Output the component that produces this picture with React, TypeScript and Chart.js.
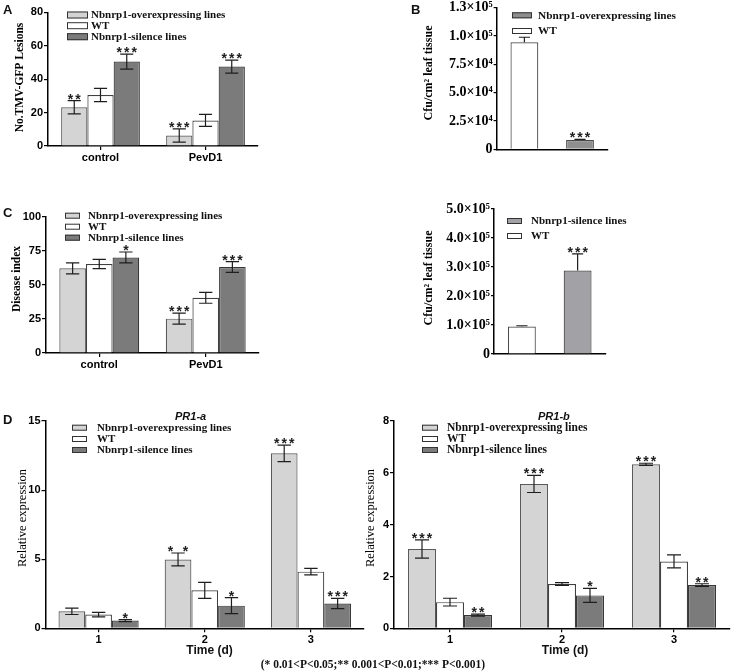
import React, { useEffect, useRef } from 'react';
import { Chart, registerables } from 'chart.js';

Chart.register(...registerables);

// ---------------- data ----------------
const legendOver = 'Nbnrp1-overexpressing lines';
const legendWT = 'WT';
const legendSil = 'Nbnrp1-silence lines';

// Panel A: TMV-GFP lesions
const treatments = ['control', 'PevD1'];
const lesionTicks = [0, 20, 40, 60, 80];
const lesionOver = [23.2, 6.3];
const lesionOverSD = [4.0, 4.0];
const lesionWT = [30.5, 15.3];
const lesionWTSD = [4.0, 3.6];
const lesionSil = [50.5, 47.5];
const lesionSilSD = [4.5, 3.9];
const lesionOverSig = ['**', '***'];
const lesionWTSig = ['', ''];
const lesionSilSig = ['***', '***'];

// Panel B (top): cfu, overexpressing vs WT
const cfuGroupsOver = ['WT', 'Nbnrp1-overexpressing lines'];
const cfuOverValues = [94500, 8200];
const cfuOverSD = [4400, 600];
const cfuOverSig = ['', '***'];
const cfuOverTicks = [0, 25000, 50000, 75000, 100000, 125000];
const cfuOverTickLabels = ['0', '2.5×10⁴', '5.0×10⁴', '7.5×10⁴', '1.0×10⁵', '1.3×10⁵'];

// Panel C: disease index
const diseaseTicks = [0, 25, 50, 75, 100];
const diseaseOver = [62.1, 25.2];
const diseaseOverSD = [4.0, 4.0];
const diseaseWT = [65.3, 40.5];
const diseaseWTSD = [3.4, 4.0];
const diseaseSil = [70.1, 63.1];
const diseaseSilSD = [4.0, 3.9];
const diseaseOverSig = ['', '***'];
const diseaseWTSig = ['', ''];
const diseaseSilSig = ['*', '***'];

// Panel B (bottom): cfu, silence vs WT
const cfuGroupsSil = ['WT', 'Nbnrp1-silence lines'];
const cfuSilValues = [95000, 288000];
const cfuSilSD = [2500, 57000];
const cfuSilSig = ['', '***'];
const cfuSilTicks = [0, 100000, 200000, 300000, 400000, 500000];
const cfuSilTickLabels = ['0', '1.0×10⁵', '2.0×10⁵', '3.0×10⁵', '4.0×10⁵', '5.0×10⁵'];

// Panel D: relative expression
const days = ['1', '2', '3'];
const pr1aTicks = [0, 5, 10, 15];
const pr1aOver = [1.23, 4.98, 12.66];
const pr1aOverSD = [0.23, 0.47, 0.6];
const pr1aWT = [0.99, 2.75, 4.1];
const pr1aWTSD = [0.16, 0.58, 0.23];
const pr1aSil = [0.56, 1.64, 1.79];
const pr1aSilSD = [0.07, 0.58, 0.37];
const pr1aOverSig = ['', '* *', '***'];
const pr1aWTSig = ['', '', ''];
const pr1aSilSig = ['*', '*', '***'];

const pr1bTicks = [0, 2, 4, 6, 8];
const pr1bOver = [3.06, 5.57, 6.33];
const pr1bOverSD = [0.35, 0.33, 0.04];
const pr1bWT = [1.01, 1.71, 2.58];
const pr1bWTSD = [0.15, 0.05, 0.25];
const pr1bSil = [0.51, 1.27, 1.67];
const pr1bSilSD = [0.04, 0.27, 0.05];
const pr1bOverSig = ['***', '***', '***'];
const pr1bWTSig = ['', '', ''];
const pr1bSilSig = ['**', '*', '**'];

// ---------------- styles ----------------
const SANS = '"Liberation Sans", Arial, sans-serif';
const SERIF = '"Liberation Serif", "Times New Roman", serif';
const cLight = '#d4d4d4';
const cWhite = '#ffffff';
const cDark = '#7b7b7b';
const cB1 = '#8f8f8f';
const cB2 = '#a2a2a6';
const bLight = '#5a5a5a';
const bWhite = '#404040';
const bDark = '#383838';

type Series = { data: number[]; sd: number[]; sig: string[]; fill: string | string[]; border: string };
type Legend = { boxX: number; boxW: number; boxH: number; textX: number; ys: number[]; font: string; items: [string, string][] };
type PanelSpec = {
  rect: number[];
  area: number[];
  labels: string[];
  series: Series[];
  yMax: number;
  yTicks: number[];
  yTickLabels?: string[];
  yTickFont: any;
  yTickLen: number;
  xTickFont: any | null;
  catPct: number;
  capFrac: number;
  upOnly?: boolean;
  yTitle: string;
  yTitleFont: string;
  yTitlePos: number[];
  xTitle?: string;
  xTitlePos?: number[];
  legend: Legend;
};

const tickSans = { family: SANS, size: 11, weight: 'bold' };
const tickSerif = { family: SERIF, size: 14, weight: 'bold' };
const legendFont = `bold 11px ${SERIF}`;

const panels: PanelSpec[] = [
  {
    rect: [0, 0, 262, 170],
    area: [48, 12.3, 258, 146],
    labels: treatments,
    series: [
      { data: lesionOver, sd: lesionOverSD, sig: lesionOverSig, fill: cLight, border: bLight },
      { data: lesionWT, sd: lesionWTSD, sig: lesionWTSig, fill: cWhite, border: bWhite },
      { data: lesionSil, sd: lesionSilSD, sig: lesionSilSig, fill: cDark, border: bDark },
    ],
    yMax: 80,
    yTicks: lesionTicks,
    yTickFont: tickSans,
    yTickLen: 4,
    xTickFont: tickSans,
    catPct: 0.75,
    capFrac: 0.5,
    yTitle: 'No.TMV-GFP Lesions',
    yTitleFont: `bold 11.5px ${SERIF}`,
    yTitlePos: [20, 77.5],
    legend: {
      boxX: 67, boxW: 21, boxH: 7, textX: 91, ys: [15, 25.7, 36.7], font: legendFont,
      items: [[legendOver, cLight], [legendWT, cWhite], [legendSil, cDark]],
    },
  },
  {
    rect: [370, 0, 363, 165],
    area: [496.6, 7.7, 607.8, 149.3],
    labels: cfuGroupsOver,
    series: [{ data: cfuOverValues, sd: cfuOverSD, sig: cfuOverSig, fill: [cWhite, cB1], border: '#4a4a4a' }],
    yMax: 125000,
    yTicks: cfuOverTicks,
    yTickLabels: cfuOverTickLabels,
    yTickFont: tickSerif,
    yTickLen: 3,
    xTickFont: null,
    catPct: 0.5,
    capFrac: 0.4,
    upOnly: true,
    yTitle: 'Cfu/cm² leaf tissue',
    yTitleFont: `bold 12px ${SERIF}`,
    yTitlePos: [429, 73],
    legend: {
      boxX: 512, boxW: 20, boxH: 6, textX: 538, ys: [15.3, 31], font: `bold 11.3px ${SERIF}`,
      items: [[legendOver, cB1], [legendWT, cWhite]],
    },
  },
  {
    rect: [0, 190, 262, 190],
    area: [46, 216.7, 259, 353],
    labels: treatments,
    series: [
      { data: diseaseOver, sd: diseaseOverSD, sig: diseaseOverSig, fill: cLight, border: bLight },
      { data: diseaseWT, sd: diseaseWTSD, sig: diseaseWTSig, fill: cWhite, border: bWhite },
      { data: diseaseSil, sd: diseaseSilSD, sig: diseaseSilSig, fill: cDark, border: bDark },
    ],
    yMax: 100,
    yTicks: diseaseTicks,
    yTickFont: tickSans,
    yTickLen: 4,
    xTickFont: tickSans,
    catPct: 0.75,
    capFrac: 0.5,
    yTitle: 'Disease index',
    yTitleFont: `bold 11.5px ${SERIF}`,
    yTitlePos: [17, 279],
    legend: {
      boxX: 65, boxW: 15, boxH: 6, textX: 88, ys: [215.7, 226.7, 237.7], font: legendFont,
      items: [[legendOver, cLight], [legendWT, cWhite], [legendSil, cDark]],
    },
  },
  {
    rect: [370, 195, 363, 170],
    area: [494, 209, 605.5, 354],
    labels: cfuGroupsSil,
    series: [{ data: cfuSilValues, sd: cfuSilSD, sig: cfuSilSig, fill: [cWhite, cB2], border: '#4a4a4a' }],
    yMax: 500000,
    yTicks: cfuSilTicks,
    yTickLabels: cfuSilTickLabels,
    yTickFont: tickSerif,
    yTickLen: 3,
    xTickFont: null,
    catPct: 0.5,
    capFrac: 0.4,
    upOnly: true,
    yTitle: 'Cfu/cm² leaf tissue',
    yTitleFont: `bold 12px ${SERIF}`,
    yTitlePos: [429, 278],
    legend: {
      boxX: 507, boxW: 15, boxH: 6, textX: 531, ys: [221, 236], font: legendFont,
      items: [[legendSil, cB2], [legendWT, cWhite]],
    },
  },
  {
    rect: [0, 405, 372, 267],
    area: [45.5, 421, 364, 628.3],
    labels: days,
    series: [
      { data: pr1aOver, sd: pr1aOverSD, sig: pr1aOverSig, fill: cLight, border: bLight },
      { data: pr1aWT, sd: pr1aWTSD, sig: pr1aWTSig, fill: cWhite, border: bWhite },
      { data: pr1aSil, sd: pr1aSilSD, sig: pr1aSilSig, fill: cDark, border: bDark },
    ],
    yMax: 15,
    yTicks: pr1aTicks,
    yTickFont: tickSans,
    yTickLen: 4,
    xTickFont: tickSans,
    catPct: 0.755,
    capFrac: 0.5,
    yTitle: 'Relative expression',
    yTitleFont: `12.5px ${SERIF}`,
    yTitlePos: [23, 518],
    xTitle: 'Time (d)',
    xTitlePos: [209.5, 651],
    legend: {
      boxX: 72, boxW: 15, boxH: 6, textX: 97, ys: [427.7, 439, 450], font: legendFont,
      items: [[legendOver, cLight], [legendWT, cWhite], [legendSil, cDark]],
    },
  },
  {
    rect: [360, 405, 373, 267],
    area: [394, 421, 730, 628.3],
    labels: days,
    series: [
      { data: pr1bOver, sd: pr1bOverSD, sig: pr1bOverSig, fill: cLight, border: bLight },
      { data: pr1bWT, sd: pr1bWTSD, sig: pr1bWTSig, fill: cWhite, border: bWhite },
      { data: pr1bSil, sd: pr1bSilSD, sig: pr1bSilSig, fill: cDark, border: bDark },
    ],
    yMax: 8,
    yTicks: pr1bTicks,
    yTickFont: tickSans,
    yTickLen: 4,
    xTickFont: tickSans,
    catPct: 0.75,
    capFrac: 0.5,
    yTitle: 'Relative expression',
    yTitleFont: `12.5px ${SERIF}`,
    yTitlePos: [371, 518],
    xTitle: 'Time (d)',
    xTitlePos: [565, 651],
    legend: {
      boxX: 422, boxW: 16, boxH: 6, textX: 447, ys: [427.7, 439, 450], font: `bold 11.5px ${SERIF}`,
      items: [[legendOver, cLight], [legendWT, cWhite], [legendSil, cDark]],
    },
  },
];

function makeDecor(spec: PanelSpec) {
  const ox = spec.rect[0];
  const oy = spec.rect[1];
  return {
    id: 'decor',
    afterDatasetsDraw(chart: any) {
      const ctx = chart.ctx;
      const ys = chart.scales.y;
      spec.series.forEach((s, di) => {
        const meta = chart.getDatasetMeta(di);
        meta.data.forEach((el: any, j: number) => {
          const v = s.data[j];
          const sd = s.sd[j];
          const x = el.x;
          const w = el.width;
          const yHi = ys.getPixelForValue(v + sd);
          const yLo = spec.upOnly ? ys.getPixelForValue(v) : ys.getPixelForValue(v - sd);
          const cap = (w * spec.capFrac) / 2;
          ctx.save();
          ctx.strokeStyle = '#1e1e1e';
          ctx.lineWidth = 1.2;
          ctx.beginPath();
          ctx.moveTo(x, yLo);
          ctx.lineTo(x, yHi);
          ctx.moveTo(x - cap, yHi);
          ctx.lineTo(x + cap, yHi);
          if (!spec.upOnly) {
            ctx.moveTo(x - cap, yLo);
            ctx.lineTo(x + cap, yLo);
          }
          ctx.stroke();
          const sig = s.sig[j];
          if (sig) {
            ctx.fillStyle = '#1e1e1e';
            ctx.font = `bold 14px ${SANS}`;
            ctx.textAlign = 'center';
            ctx.textBaseline = 'alphabetic';
            const n = sig.length;
            const step = 7.5;
            for (let k = 0; k < n; k++) {
              const ch = sig[k];
              if (ch === ' ') continue;
              ctx.fillText(ch, x + (k - (n - 1) / 2) * step, yHi + 3);
            }
          }
          ctx.restore();
        });
      });
    },
    afterDraw(chart: any) {
      const ctx = chart.ctx;
      const lg = spec.legend;
      ctx.save();
      lg.items.forEach(([text, fill], i) => {
        const cy = lg.ys[i] - oy;
        const bx = lg.boxX - ox;
        ctx.fillStyle = fill;
        ctx.fillRect(bx, cy - lg.boxH / 2, lg.boxW, lg.boxH);
        ctx.strokeStyle = '#333';
        ctx.lineWidth = 1;
        ctx.strokeRect(bx + 0.5, cy - lg.boxH / 2 + 0.5, lg.boxW - 1, lg.boxH - 1);
        ctx.fillStyle = '#111';
        ctx.font = lg.font;
        ctx.textAlign = 'left';
        ctx.textBaseline = 'middle';
        ctx.fillText(text, lg.textX - ox, cy + 0.5);
      });
      // y title
      ctx.save();
      ctx.translate(spec.yTitlePos[0] - ox, spec.yTitlePos[1] - oy);
      ctx.rotate(-Math.PI / 2);
      ctx.fillStyle = '#000';
      ctx.font = spec.yTitleFont;
      ctx.textAlign = 'center';
      ctx.textBaseline = 'middle';
      ctx.fillText(spec.yTitle, 0, 0);
      ctx.restore();
      if (spec.xTitle && spec.xTitlePos) {
        ctx.fillStyle = '#111';
        ctx.font = `bold 12px ${SANS}`;
        ctx.textAlign = 'center';
        ctx.textBaseline = 'middle';
        ctx.fillText(spec.xTitle, spec.xTitlePos[0] - ox, spec.xTitlePos[1] - oy);
      }
      ctx.restore();
    },
  };
}

function buildConfig(spec: PanelSpec): any {
  const [ox, oy, w, h] = spec.rect;
  const [L, T, R, B] = spec.area;
  const showX = !!spec.xTickFont;
  return {
    type: 'bar',
    data: {
      labels: spec.labels,
      datasets: spec.series.map((s, i) => ({
        label: 'series' + i,
        data: s.data,
        backgroundColor: s.fill,
        borderColor: s.border,
        borderWidth: 1.2,
        categoryPercentage: spec.catPct,
        barPercentage: 1,
      })),
    },
    options: {
      responsive: false,
      animation: false,
      events: [],
      layout: { padding: { left: 0, top: T - oy, right: ox + w - R, bottom: 0 } },
      plugins: { legend: { display: false }, tooltip: { enabled: false }, title: { display: false } },
      scales: {
        x: {
          type: 'category',
          offset: true,
          grid: {
            display: showX,
            drawOnChartArea: false,
            drawTicks: true,
            tickLength: 4,
            color: '#000',
            lineWidth: 1.2,
            offset: false,
          },
          border: { display: true, color: '#000', width: 1.5 },
          ticks: {
            display: showX,
            font: spec.xTickFont || tickSans,
            color: '#000',
            padding: 1.5,
            maxRotation: 0,
            autoSkip: false,
          },
          afterFit: (s: any) => {
            s.height = oy + h - B;
            s.paddingLeft = 0;
            s.paddingRight = 0;
            s.paddingTop = 0;
            s.paddingBottom = 0;
          },
        },
        y: {
          type: 'linear',
          min: 0,
          max: spec.yMax,
          afterBuildTicks: (s: any) => {
            s.ticks = spec.yTicks.map((v) => ({ value: v }));
          },
          grid: {
            display: true,
            drawOnChartArea: false,
            drawTicks: true,
            tickLength: spec.yTickLen,
            color: '#000',
            lineWidth: 1.2,
          },
          border: { display: true, color: '#000', width: 1.5 },
          ticks: {
            font: spec.yTickFont,
            color: '#000',
            padding: 1,
            callback: (v: number) => {
              const i = spec.yTicks.indexOf(v);
              if (i < 0) return '';
              return spec.yTickLabels ? spec.yTickLabels[i] : String(v);
            },
          },
          afterFit: (s: any) => {
            s.width = L - ox;
            s.paddingTop = 0;
            s.paddingBottom = 0;
            s.paddingLeft = 0;
            s.paddingRight = 0;
          },
        },
      },
    },
    plugins: [makeDecor(spec)],
  };
}

function PanelChart({ spec }: { spec: PanelSpec }) {
  const ref = useRef<HTMLCanvasElement>(null);
  useEffect(() => {
    const chart = new Chart(ref.current as HTMLCanvasElement, buildConfig(spec));
    return () => chart.destroy();
  }, [spec]);
  const [x, y, w, h] = spec.rect;
  return (
    <canvas
      ref={ref}
      width={w}
      height={h}
      style={{ position: 'absolute', left: x, top: y, width: w, height: h }}
    />
  );
}

const letter = (left: number, top: number): React.CSSProperties => ({
  position: 'absolute',
  left,
  top,
  font: `bold 13px ${SANS}`,
  lineHeight: '13px',
  color: '#111',
});

const geneTitle = (left: number): React.CSSProperties => ({
  position: 'absolute',
  left,
  top: 410.5,
  font: `italic bold 11px ${SANS}`,
  lineHeight: '11px',
  color: '#111',
});

export default function App() {
  return (
    <div
      style={{
        position: 'absolute',
        left: 0,
        top: 0,
        width: 733,
        height: 672,
        background: '#fff',
        overflow: 'hidden',
      }}
    >
      {panels.map((p, i) => (
        <PanelChart key={i} spec={p} />
      ))}
      <div style={letter(3, 2.5)}>A</div>
      <div style={letter(411, 2.5)}>B</div>
      <div style={letter(3, 206)}>C</div>
      <div style={letter(3, 412.5)}>D</div>
      <div style={geneTitle(175)}>PR1-a</div>
      <div style={geneTitle(538)}>PR1-b</div>
      <div
        style={{
          position: 'absolute',
          left: 73,
          width: 600,
          top: 658,
          textAlign: 'center',
          font: `bold 11.5px ${SERIF}`,
          lineHeight: '12px',
          color: '#111',
        }}
      >
        (* 0.01&lt;P&lt;0.05;** 0.001&lt;P&lt;0.01;*** P&lt;0.001)
      </div>
    </div>
  );
}
